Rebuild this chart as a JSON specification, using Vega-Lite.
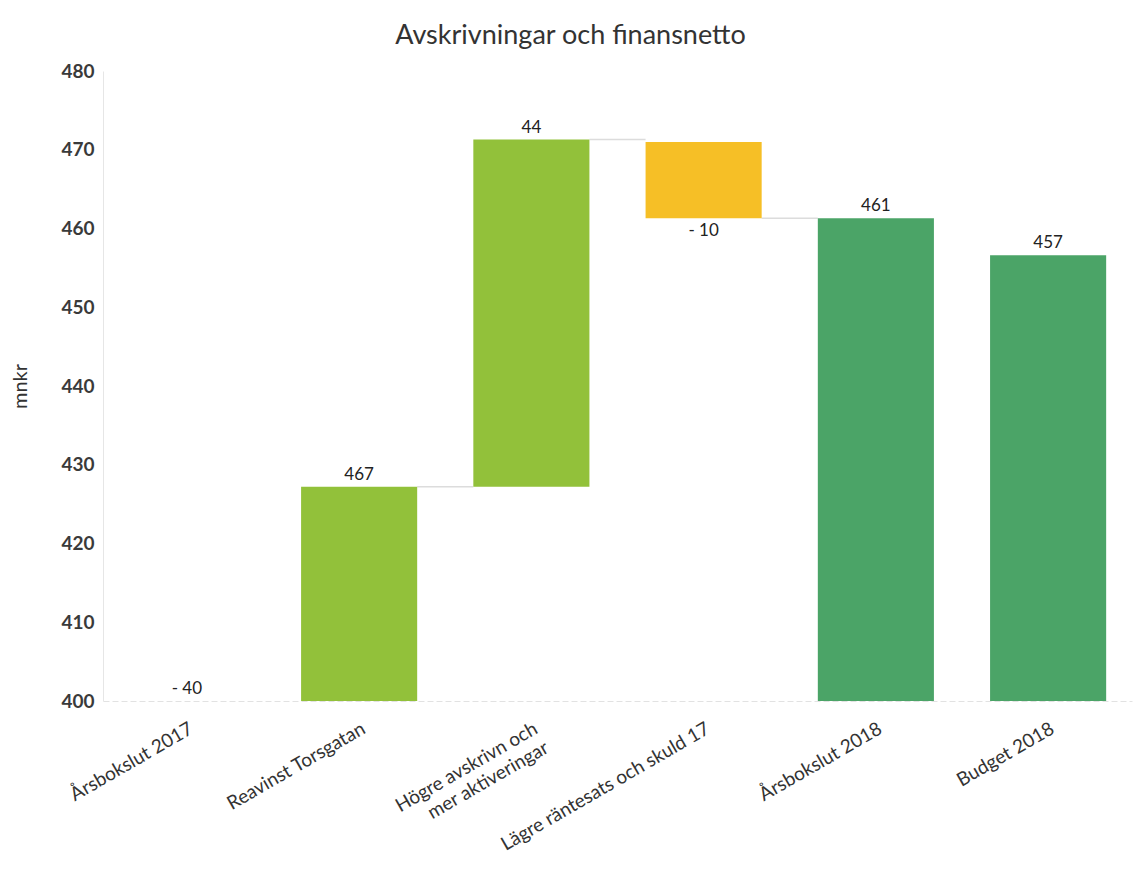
{
  "$schema": "https://vega.github.io/schema/vega-lite/v6.json",
  "autosize": {"type": "none"},
  "padding": {"left": 103, "top": 71, "right": 3, "bottom": 188},
  "width": 1029,
  "height": 630,
  "background": "white",
  "title": {
    "text": "Avskrivningar och finansnetto",
    "font": "Lato",
    "fontSize": 27,
    "fontWeight": "normal",
    "color": "#333333",
    "anchor": "middle",
    "dx": -47,
    "offset": 12
  },
  "config": {"view": {"stroke": null}, "font": "Lato"},
  "datasets": {
    "steps": [
      {"kategori": "Årsbokslut 2017", "start": 400, "slut": 400, "etikett": "- 40", "typ": "start"},
      {"kategori": "Reavinst Torsgatan", "start": 400, "slut": 427.2, "etikett": "467", "typ": "ökning"},
      {"kategori": "Högre avskrivn och mer aktiveringar", "start": 427.2, "slut": 471.3, "etikett": "44", "typ": "ökning"},
      {"kategori": "Lägre räntesats och skuld 17", "start": 471.0, "slut": 461.3, "etikett": "- 10", "typ": "minskning"},
      {"kategori": "Årsbokslut 2018", "start": 400, "slut": 461.3, "etikett": "461", "typ": "summa"},
      {"kategori": "Budget 2018", "start": 400, "slut": 456.6, "etikett": "457", "typ": "summa"}
    ],
    "kopplingar": [
      {"fran": "Reavinst Torsgatan", "till": "Högre avskrivn och mer aktiveringar", "niva": 427.2},
      {"fran": "Högre avskrivn och mer aktiveringar", "till": "Lägre räntesats och skuld 17", "niva": 471.3},
      {"fran": "Lägre räntesats och skuld 17", "till": "Årsbokslut 2018", "niva": 461.3}
    ]
  },
  "encoding": {
    "x": {
      "field": "kategori",
      "type": "nominal",
      "sort": null,
      "scale": {
        "domain": ["Årsbokslut 2017", "Reavinst Torsgatan", "Högre avskrivn och mer aktiveringar", "Lägre räntesats och skuld 17", "Årsbokslut 2018", "Budget 2018"],
        "paddingInner": 0.326,
        "paddingOuter": 0.15
      },
      "axis": {
        "title": null,
        "labelAngle": -30,
        "labelAlign": "right",
        "labelBaseline": "top",
        "labelFont": "Lato",
        "labelFontSize": 19,
        "labelColor": "#333333",
        "labelPadding": 18,
        "labelLineHeight": 22,
        "labelLimit": 1000,
        "labelOverlap": false,
        "ticks": false,
        "domain": true,
        "domainColor": "#e2e2e2",
        "domainDash": [6, 3],
        "labelExpr": "datum.value == 'Högre avskrivn och mer aktiveringar' ? ['Högre avskrivn och', 'mer aktiveringar'] : datum.value"
      }
    }
  },
  "layer": [
    {
      "data": {"name": "kopplingar"},
      "mark": {"type": "rule", "color": "#dcdcdc", "strokeWidth": 1.5},
      "encoding": {
        "x": {"field": "fran", "type": "nominal", "bandPosition": 1},
        "x2": {"field": "till", "bandPosition": 0},
        "y": {"field": "niva", "type": "quantitative"}
      }
    },
    {
      "data": {"name": "steps"},
      "mark": {"type": "bar"},
      "encoding": {
        "y": {
          "field": "start",
          "type": "quantitative",
          "scale": {"domain": [400, 480], "nice": false, "zero": false},
          "axis": {
            "title": "mnkr",
            "titleFont": "Lato",
            "titleFontSize": 20,
            "titleFontWeight": "normal",
            "titleColor": "#333333",
            "titlePadding": 30,
            "values": [400, 410, 420, 430, 440, 450, 460, 470, 480],
            "labelFont": "Lato",
            "labelFontSize": 19,
            "labelFontWeight": "bold",
            "labelColor": "#3a3a3a",
            "labelPadding": 9,
            "ticks": false,
            "grid": false,
            "domain": true,
            "domainColor": "#e6e6e6"
          }
        },
        "y2": {"field": "slut"},
        "color": {
          "field": "typ",
          "type": "nominal",
          "scale": {
            "domain": ["start", "ökning", "minskning", "summa"],
            "range": ["#92c13a", "#92c13a", "#f6bf26", "#4ba467"]
          },
          "legend": null
        }
      }
    },
    {
      "data": {"name": "steps"},
      "transform": [{"filter": "datum.typ != 'minskning'"}],
      "mark": {"type": "text", "baseline": "bottom", "dy": -3, "font": "Lato", "fontSize": 17, "color": "#222222"},
      "encoding": {
        "y": {"field": "slut", "type": "quantitative"},
        "text": {"field": "etikett"}
      }
    },
    {
      "data": {"name": "steps"},
      "transform": [{"filter": "datum.typ == 'minskning'"}],
      "mark": {"type": "text", "baseline": "top", "dy": 5, "font": "Lato", "fontSize": 17, "color": "#222222"},
      "encoding": {
        "y": {"field": "slut", "type": "quantitative"},
        "text": {"field": "etikett"}
      }
    }
  ]
}
